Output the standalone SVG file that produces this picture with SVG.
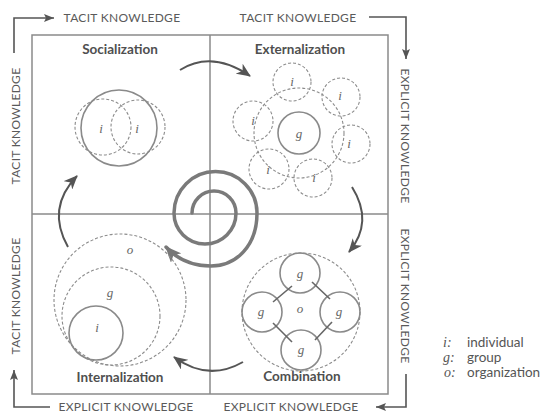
<svg xmlns="http://www.w3.org/2000/svg" width="542" height="414" viewBox="0 0 542 414">
<style>
.lbl{font-family:Lato,"Open Sans","Liberation Sans",sans-serif;font-size:12px;fill:#5a5a5a;letter-spacing:0.3px}
.ttl{font-family:Lato,"Open Sans","Liberation Sans",sans-serif;font-size:13.5px;font-weight:bold;fill:#4f4f4f}
.it{font-family:"Liberation Serif","DejaVu Serif",serif;font-style:italic;font-size:13px;fill:#666;text-anchor:middle}
.leg{font-family:Lato,"Open Sans","Liberation Sans",sans-serif;font-size:13.5px;fill:#555}
.legi{font-family:"Liberation Serif","DejaVu Serif",serif;font-style:italic;font-size:14px;fill:#555}
.frame{fill:none;stroke:#8a8a8a;stroke-width:1.5}
.dash{fill:none;stroke:#8c8c8c;stroke-width:1.1;stroke-dasharray:3 2}
.solid{fill:none;stroke:#8a8a8a;stroke-width:1.6}
.kn{fill:none;stroke:#555;stroke-width:1.6}
.cyc{fill:none;stroke:#555;stroke-width:2}
.link{stroke:#666;stroke-width:1.6}
</style>
<defs>
<marker id="ah" markerUnits="userSpaceOnUse" markerWidth="14" markerHeight="12" viewBox="0 0 14 12" refX="13" refY="6" orient="auto">
<path d="M0,0 L14,6 L0,12 L4,6 z" fill="#555"/>
</marker>
<marker id="ak" markerUnits="userSpaceOnUse" markerWidth="10" markerHeight="8" viewBox="0 0 10 8" refX="10" refY="4" orient="auto">
<path d="M0,0 L10,4 L0,8 L2,4 z" fill="#555"/>
</marker>
<marker id="as" markerUnits="userSpaceOnUse" markerWidth="16" markerHeight="14" viewBox="0 0 16 14" refX="15" refY="7" orient="auto">
<path d="M0,0 L16,7 L0,14 L4,7 z" fill="#777"/>
</marker>
</defs>

<g id="frame">
<rect class="frame" x="32" y="35" width="356" height="359"/>
<line class="frame" x1="210" y1="35" x2="210" y2="394"/>
<line class="frame" x1="32" y1="214" x2="388" y2="214"/>
</g>

<g id="axis-labels">
<text class="lbl" x="122" y="22" text-anchor="middle">TACIT KNOWLEDGE</text>
<text class="lbl" x="298" y="22" text-anchor="middle">TACIT KNOWLEDGE</text>
<text class="lbl" x="126" y="411" text-anchor="middle">EXPLICIT KNOWLEDGE</text>
<text class="lbl" x="291" y="411" text-anchor="middle">EXPLICIT KNOWLEDGE</text>
<text class="lbl" transform="translate(401,136) rotate(90)" text-anchor="middle">EXPLICIT KNOWLEDGE</text>
<text class="lbl" transform="translate(401,296) rotate(90)" text-anchor="middle">EXPLICIT KNOWLEDGE</text>
<text class="lbl" transform="translate(20,126) rotate(-90)" text-anchor="middle">TACIT KNOWLEDGE</text>
<text class="lbl" transform="translate(20,296) rotate(-90)" text-anchor="middle">TACIT KNOWLEDGE</text>
</g>

<g id="connectors">
<polyline class="kn" points="14,53 14,18 54,18" marker-end="url(#ak)"/>
<polyline class="kn" points="369,17 406,17 406,59" marker-end="url(#ak)"/>
<polyline class="kn" points="406,374 406,407 376,407" marker-end="url(#ak)"/>
<polyline class="kn" points="50,407 14,407 14,370" marker-end="url(#ak)"/>
<path class="cyc" d="M180,70 Q212,50 250,76" marker-end="url(#ah)"/>
<path class="cyc" d="M352,187 Q374,222 349,252" marker-end="url(#ah)"/>
<path class="cyc" d="M243,362 Q208,382 174,357" marker-end="url(#ah)"/>
<path class="cyc" d="M68,247 Q46,208 77,176" marker-end="url(#ah)"/>
</g>

<g id="spiral">
<path d="M192,213 A22,22 0 0 1 236,213 A31,31 0 0 1 174,213 A41.5,41.5 0 0 1 257,213 C257,246 236,266 211,266 C192,266 177,259 166,247" fill="none" stroke="#7a7a7a" stroke-width="3.5" stroke-linecap="round" marker-end="url(#as)"/>
</g>

<g id="socialization">
<text class="ttl" x="120" y="54" text-anchor="middle">Socialization</text>
<circle class="solid" cx="119" cy="128" r="38"/>
<circle class="dash" cx="103" cy="127" r="28"/>
<circle class="dash" cx="138" cy="127" r="27"/>
<text class="it" x="101" y="133">i</text>
<text class="it" x="137" y="133">i</text>
</g>

<g id="externalization">
<text class="ttl" x="300" y="54" text-anchor="middle">Externalization</text>
<ellipse class="dash" cx="299" cy="133" rx="45" ry="45"/>
<circle class="solid" cx="299" cy="133" r="21"/>
<text class="it" x="299" y="138">g</text>
<circle class="dash" cx="292" cy="82" r="19"/>
<text class="it" x="292" y="86">i</text>
<circle class="dash" cx="341" cy="97" r="19"/>
<text class="it" x="340" y="100">i</text>
<circle class="dash" cx="253" cy="121" r="20"/>
<text class="it" x="253" y="125">i</text>
<circle class="dash" cx="351" cy="144" r="19"/>
<text class="it" x="349" y="148">i</text>
<circle class="dash" cx="269" cy="169" r="20"/>
<text class="it" x="268" y="174">i</text>
<circle class="dash" cx="313" cy="178" r="19"/>
<text class="it" x="314" y="182">i</text>
</g>

<g id="combination">
<text class="ttl" x="302" y="381" text-anchor="middle">Combination</text>
<circle class="dash" cx="301" cy="312" r="59"/>
<circle class="solid" cx="300" cy="273" r="20"/>
<circle class="solid" cx="262" cy="312" r="20"/>
<circle class="solid" cx="340" cy="312" r="20"/>
<circle class="solid" cx="301" cy="350" r="20"/>
<text class="it" x="300" y="278">g</text>
<text class="it" x="261" y="316">g</text>
<text class="it" x="339" y="316">g</text>
<text class="it" x="301" y="354">g</text>
<text class="it" x="300" y="313">o</text>
<line class="link" x1="292" y1="286" x2="273" y2="302"/>
<line class="link" x1="312" y1="282" x2="330" y2="299"/>
<line class="link" x1="332" y1="322" x2="315" y2="340"/>
<line class="link" x1="273" y1="323" x2="292" y2="342"/>
</g>

<g id="internalization">
<text class="ttl" x="120" y="382" text-anchor="middle">Internalization</text>
<circle class="dash" cx="120" cy="300" r="66"/>
<circle class="dash" cx="111" cy="316" r="49"/>
<circle class="solid" cx="96" cy="333" r="27"/>
<text class="it" x="130" y="254">o</text>
<text class="it" x="110" y="297">g</text>
<text class="it" x="97" y="332">i</text>
</g>

<g id="legend">
<text class="legi" x="443" y="347">i:</text>
<text class="leg" x="467" y="347">individual</text>
<text class="legi" x="443" y="362">g:</text>
<text class="leg" x="467" y="362">group</text>
<text class="legi" x="444" y="377">o:</text>
<text class="leg" x="467" y="377">organization</text>
</g>
</svg>
